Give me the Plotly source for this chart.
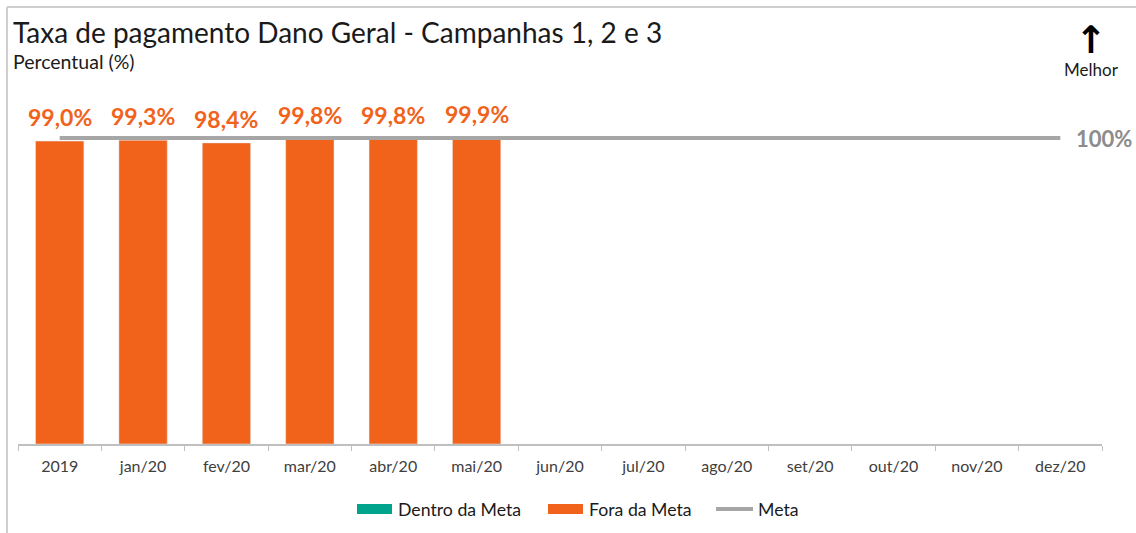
import plotly.graph_objects as go

categories = ["2019", "jan/20", "fev/20", "mar/20", "abr/20", "mai/20", "jun/20",
              "jul/20", "ago/20", "set/20", "out/20", "nov/20", "dez/20"]
fora_meta = [99.0, 99.3, 98.4, 99.8, 99.8, 99.9, None, None, None, None, None, None, None]
dentro_meta = [None] * 13
meta = [100] * 13
series_names = ["Dentro da Meta", "Fora da Meta", "Meta"]

title = "Taxa de pagamento Dano Geral - Campanhas 1, 2 e 3"
subtitle = "Percentual (%)"

FONT = "Lato"
ORANGE = "#F1621A"
TEAL = "#00A48D"
GRAY = "#A6A6A6"

W, H = 1136, 533
L, R, T, B = 18, 34, 110, 89
pw, ph = W - L - R, H - T - B


def px(x):
    return (x - L) / pw


def py(y):
    return (H - B - y) / ph


fig = go.Figure()
fig.add_bar(x=categories, y=dentro_meta, name=series_names[0], marker_color=TEAL,
            width=0.58, showlegend=False)
fig.add_bar(x=categories, y=fora_meta, name=series_names[1], marker_color=ORANGE,
            width=0.58, showlegend=False)
fig.add_scatter(x=categories, y=meta, name=series_names[2], mode="lines",
                line=dict(color=GRAY, width=4), showlegend=False)

ann = []
for i, v in enumerate(fora_meta):
    if v is None:
        continue
    ann.append(dict(x=i, y=v, xref="x", yref="y", yanchor="bottom", yshift=8,
                    text=f"{v:.1f}".replace(".", ",") + "%", showarrow=False,
                    font=dict(family=FONT, size=23, color=ORANGE, weight="bold")))
# Meta value label
ann.append(dict(x=len(categories) - 1, y=meta[-1], xref="x", yref="y", xanchor="left",
                xshift=14, text=f"{meta[-1]}%", showarrow=False,
                font=dict(family=FONT, size=22, color="#8C8C8C", weight="bold")))
# title and subtitle
ann.append(dict(x=px(11), y=py(32), xref="paper", yref="paper", xanchor="left",
                yanchor="middle", text=title, showarrow=False,
                font=dict(family=FONT, size=28, color="#1a1a1a")))
ann.append(dict(x=px(11), y=py(62), xref="paper", yref="paper", xanchor="left",
                yanchor="middle", text=subtitle, showarrow=False,
                font=dict(family=FONT, size=19.5, color="#1a1a1a")))
# "better" arrow
ann.append(dict(x=px(1091), y=py(40), xref="paper", yref="paper", xanchor="center",
                yanchor="middle", text="<b>↑</b>", showarrow=False,
                font=dict(family="DejaVu Sans", size=38, color="#000000")))
ann.append(dict(x=px(1091), y=py(70), xref="paper", yref="paper", xanchor="center",
                yanchor="middle", text="Melhor", showarrow=False,
                font=dict(family=FONT, size=17, color="#1a1a1a")))

# custom legend
shapes = []
leg_y = 509
items = [(357, TEAL, "box"), (548, ORANGE, "box"), (716, GRAY, "line")]
for (x0, col, kind), name in zip(items, series_names):
    if kind == "box":
        shapes.append(dict(type="rect", xref="paper", yref="paper",
                           x0=px(x0), x1=px(x0 + 35), y0=py(leg_y - 5), y1=py(leg_y + 5),
                           fillcolor=col, line=dict(width=0)))
    else:
        shapes.append(dict(type="line", xref="paper", yref="paper",
                           x0=px(x0), x1=px(x0 + 37), y0=py(leg_y), y1=py(leg_y),
                           line=dict(color=col, width=4)))
    ann.append(dict(x=px(x0 + 39 if kind == "box" else x0 + 40), y=py(leg_y), xref="paper",
                    yref="paper", xanchor="left", yanchor="middle", text=name,
                    showarrow=False, font=dict(family=FONT, size=17.7, color="#1a1a1a")))

# chart border (top and left)
shapes.append(dict(type="line", xref="paper", yref="paper", x0=px(7), x1=px(1140),
                   y0=py(7), y1=py(7), line=dict(color="#CFCFCF", width=2)))
shapes.append(dict(type="line", xref="paper", yref="paper", x0=px(7), x1=px(7),
                   y0=py(7), y1=py(540), line=dict(color="#CFCFCF", width=2)))

fig.update_layout(
    width=W, height=H,
    margin=dict(l=L, r=R, t=T, b=B),
    paper_bgcolor="white", plot_bgcolor="white",
    barmode="overlay",
    showlegend=False,
    annotations=ann,
    shapes=shapes,
    font=dict(family=FONT),
)
fig.update_xaxes(type="category", range=[-0.5, 12.5], showline=True, linecolor="#BFBFBF",
                 linewidth=1.5, ticks="outside", tickson="boundaries", ticklen=5,
                 tickcolor="#BFBFBF", showgrid=False, ticklabelstandoff=7,
                 tickfont=dict(family=FONT, size=16, color="#404040"))
fig.update_yaxes(range=[0, ph / 3.06], visible=False, showgrid=False)

fig.write_html("out.html", config={"displayModeBar": False},
               post_script="document.body.style.margin='0px';")
